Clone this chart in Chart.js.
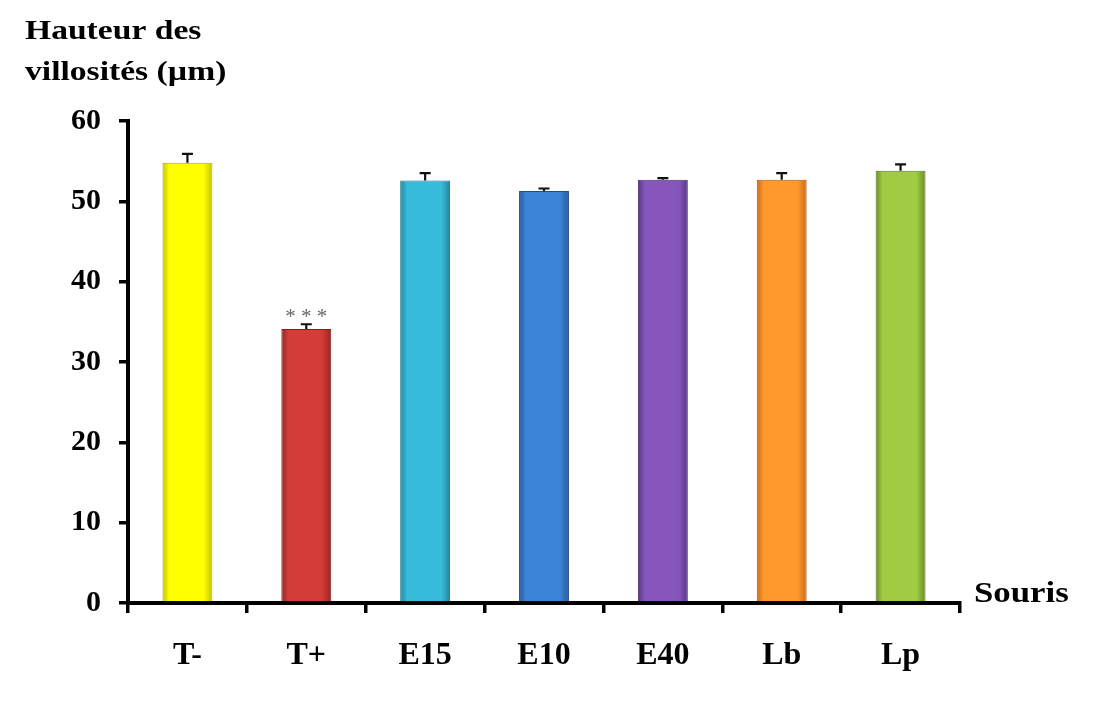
<!DOCTYPE html>
<html>
<head>
<meta charset="utf-8">
<title>Hauteur des villosités</title>
<script src="https://cdn.jsdelivr.net/npm/chart.js@4/dist/chart.umd.min.js"></script>
<style>
  html, body { margin: 0; padding: 0; background: #ffffff; }
  #wrap { width: 1096px; height: 725px; }
</style>
</head>
<body>
<div id="wrap"><canvas id="chart" width="1096" height="725"></canvas></div>
<script>
// Villus height per mouse group (µm), mean and standard error
const categories = ['T-', 'T+', 'E15', 'E10', 'E40', 'Lb', 'Lp'];
const heights = [54.8, 34.1, 52.6, 51.3, 52.7, 52.7, 53.8];
const errors = [1.1, 0.6, 0.9, 0.3, 0.2, 0.8, 0.8];
const significance = ['', '***', '', '', '', '', ''];
const yTicks = [0, 10, 20, 30, 40, 50, 60];
const titleLines = ['Hauteur des', 'villosités (µm)'];
const xAxisName = 'Souris';

// bar fill: centre colour and darker edge colour
const barColors = ['#ffff00', '#d33c37', '#38bcdb', '#3c84d6', '#8756bb', '#ff992b', '#a0cb42'];
const edgeColors = ['#c4c400', '#952622', '#23849f', '#285aa0', '#573785', '#c96a18', '#6a8b25'];
const borderColors = ['#a9a900', '#7e1f1c', '#1e7088', '#214b88', '#4a2e72', '#a95912', '#5a7720'];

const FONT = "'Liberation Serif', 'Times New Roman', serif";
const BAR_PCT = 0.42;

function barGradient(ctx) {
  const i = ctx.dataIndex;
  const chart = ctx.chart;
  const xs = chart.scales && chart.scales.x;
  if (ctx.type !== 'data' || !xs || !chart.chartArea) return barColors[i];
  const cx = xs.getPixelForValue(i);
  const w = (xs.width / categories.length) * BAR_PCT;
  const g = chart.ctx.createLinearGradient(cx - w / 2, 0, cx + w / 2, 0);
  g.addColorStop(0, edgeColors[i]);
  g.addColorStop(0.14, barColors[i]);
  g.addColorStop(0.82, barColors[i]);
  g.addColorStop(1, edgeColors[i]);
  return g;
}

// stretched bold caption text
function wideText(ctx, text, x, y, size, stretch) {
  ctx.save();
  ctx.font = 'bold ' + size + 'px ' + FONT;
  ctx.textAlign = 'left';
  ctx.textBaseline = 'alphabetic';
  ctx.translate(x, y);
  ctx.scale(stretch, 1);
  ctx.fillText(text, 0, 0);
  ctx.restore();
}

// error bars, significance marks, title and axis name
const annotations = {
  id: 'annotations',
  afterDatasetsDraw(chart) {
    const { ctx, scales } = chart;
    const xs = scales.x, ys = scales.y;
    ctx.save();
    ctx.strokeStyle = '#111';
    ctx.lineWidth = 2.2;
    heights.forEach((v, i) => {
      const x = xs.getPixelForValue(i);
      const yTop = ys.getPixelForValue(v + errors[i]);
      const yBar = ys.getPixelForValue(v);
      ctx.beginPath();
      ctx.moveTo(x, yBar);
      ctx.lineTo(x, yTop);
      ctx.moveTo(x - 5.5, yTop);
      ctx.lineTo(x + 5.5, yTop);
      ctx.stroke();
      if (significance[i]) {
        ctx.fillStyle = '#666';
        ctx.font = '21px ' + FONT;
        ctx.textAlign = 'center';
        ctx.textBaseline = 'alphabetic';
        ctx.fillText(significance[i].split('').join(' '), x, yTop - 1);
      }
    });
    ctx.fillStyle = '#000';
    wideText(ctx, titleLines[0], 25, 39, 28, 1.2);
    wideText(ctx, titleLines[1], 25, 80, 28, 1.2);
    wideText(ctx, xAxisName, xs.right + 14, xs.top - 1, 29, 1.2);
    ctx.restore();
  }
};

new Chart(document.getElementById('chart'), {
  type: 'bar',
  data: {
    labels: categories,
    datasets: [{
      data: heights,
      backgroundColor: barGradient,
      borderColor: borderColors,
      borderWidth: 1,
      barPercentage: BAR_PCT,
      categoryPercentage: 1
    }]
  },
  options: {
    responsive: false,
    animation: false,
    devicePixelRatio: 1,
    layout: { padding: { left: 0, right: 136, top: 121, bottom: 0 } },
    plugins: { legend: { display: false }, tooltip: { enabled: false }, title: { display: false } },
    scales: {
      x: {
        offset: true,
        grid: { display: true, drawOnChartArea: false, offset: true, color: '#000', lineWidth: 3.5, tickLength: 10 },
        border: { display: true, color: '#000', width: 4 },
        ticks: { color: '#000', font: { family: FONT, size: 32, weight: 'bold' }, padding: 24, maxRotation: 0 },
        afterFit(scale) { scale.height = 122; }
      },
      y: {
        min: 0, max: 60,
        afterBuildTicks(scale) { scale.ticks = yTicks.map(v => ({ value: v })); },
        grid: { display: true, drawOnChartArea: false, color: '#000', lineWidth: 3.5, tickLength: 9 },
        border: { display: true, color: '#000', width: 4 },
        ticks: { color: '#000', font: { family: FONT, size: 30, weight: 'bold' }, padding: 18 },
        afterFit(scale) { scale.width = 128; }
      }
    }
  },
  plugins: [annotations]
});
</script>
</body>
</html>
